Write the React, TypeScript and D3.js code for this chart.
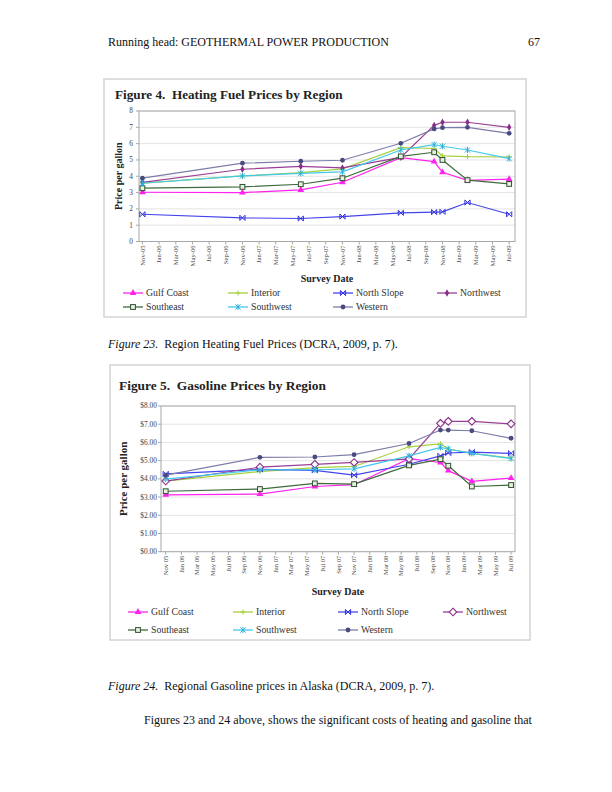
import React from "react";
import * as d3 from "d3";

// months since Nov 2005 of each survey point
const surveyMonths = [0, 12, 19, 24, 31, 35, 36, 39, 44];
const tickMonths = d3.range(0, 45, 2);

const heatingTickLabels = ["Nov-05","Jan-06","Mar-06","May-06","Jul-06","Sep-06","Nov-06","Jan-07","Mar-07","May-07","Jul-07","Sep-07","Nov-07","Jan-08","Mar-08","May-08","Jul-08","Sep-08","Nov-08","Jan-09","Mar-09","May-09","Jul-09"];
const gasTickLabels = ["Nov 05","Jan 06","Mar 06","May 06","Jul 06","Sep 06","Nov 06","Jan 07","Mar 07","May 07","Jul 07","Sep 07","Nov 07","Jan 08","Mar 08","May 08","Jul 08","Sep 08","Nov 08","Jan 09","Mar 09","May 09","Jul 09"];

const regions = ["Gulf Coast","Interior","North Slope","Northwest","Southeast","Southwest","Western"];

const heatGulfCoast = [3.02, 3.0, 3.16, 3.63, 5.14, 4.9, 4.24, 3.75, 3.82];
const heatInterior = [3.58, 4.02, 4.22, 4.45, 5.75, 5.7, 5.25, 5.2, 5.18];
const heatNorthSlope = [1.67, 1.45, 1.41, 1.53, 1.76, 1.8, 1.82, 2.39, 1.67];
const heatNorthwest = [3.63, 4.43, 4.61, 4.51, 5.16, 7.12, 7.31, 7.31, 7.0];
const heatSoutheast = [3.27, 3.35, 3.51, 3.88, 5.22, 5.47, 5.0, 3.76, 3.53];
const heatSouthwest = [3.57, 4.02, 4.18, 4.27, 5.61, 5.94, 5.84, 5.61, 5.08];
const heatWestern = [3.88, 4.8, 4.92, 4.98, 6.02, 6.9, 6.98, 7.0, 6.63];

const gasGulfCoast = [3.12, 3.16, 3.58, 3.68, 5.11, 4.9, 4.45, 3.86, 4.04];
const gasInterior = [3.88, 4.4, 4.62, 4.68, 5.76, 5.92, 5.64, 5.4, 5.15];
const gasNorthSlope = [4.27, 4.52, 4.47, 4.2, 4.8, 5.26, 5.42, 5.47, 5.4];
const gasNorthwest = [3.88, 4.64, 4.8, 4.9, 5.1, 7.05, 7.16, 7.16, 7.02];
const gasSoutheast = [3.32, 3.44, 3.75, 3.71, 4.74, 5.08, 4.72, 3.58, 3.66];
const gasSouthwest = [3.99, 4.5, 4.5, 4.55, 5.26, 5.73, 5.64, 5.4, 5.12];
const gasWestern = [4.2, 5.18, 5.2, 5.33, 5.94, 6.68, 6.68, 6.64, 6.23];

const heatValues = [heatGulfCoast, heatInterior, heatNorthSlope, heatNorthwest, heatSoutheast, heatSouthwest, heatWestern];
const gasValues = [gasGulfCoast, gasInterior, gasNorthSlope, gasNorthwest, gasSoutheast, gasSouthwest, gasWestern];

const yTicks = d3.range(0, 9, 1);

const lineColors = ["#ff22ee", "#a8d040", "#4444ee", "#9a3f95", "#3d6b3d", "#44c8ee", "#7c7ca8"];
const markerColors = ["#ff22ee", "#a8d040", "#3333dd", "#8a2f88", "#2f4f2f", "#2fb0d8", "#4a4a80"];
const markers = ["triangle", "plus", "x", "diamond", "square", "asterisk", "circle"];

const SERIF = "'Liberation Serif', 'DejaVu Serif', serif";

function Marker({ type, x, y, color, big }: { type: string; x: number; y: number; color: string; big?: boolean }) {
  const s = 2.6;
  switch (type) {
    case "triangle":
      return <path d={d3.symbol(d3.symbolTriangle, 20)() || ""} transform={`translate(${x},${y})`} fill={color} />;
    case "plus":
      return <path d={`M${x - s},${y}H${x + s}M${x},${y - s}V${y + s}`} stroke={color} strokeWidth={1} />;
    case "x":
      return <path d={`M${x - s},${y - s}L${x + s},${y + s}M${x - s},${y + s}L${x + s},${y - s}M${x - s},${y - s}V${y + s}M${x + s},${y - s}V${y + s}`} stroke={color} strokeWidth={1} fill="none" />;
    case "diamond":
      return big ? (
        <path d={`M${x},${y - 3.8}L${x + 3.8},${y}L${x},${y + 3.8}L${x - 3.8},${y}Z`} fill="#fff" stroke={color} strokeWidth={1.1} />
      ) : (
        <path d={d3.symbol(d3.symbolDiamond, 16)() || ""} transform={`translate(${x},${y})`} fill={color} />
      );
    case "square":
      return <rect x={x - 2.4} y={y - 2.4} width={4.8} height={4.8} fill="#e8f0e0" stroke={color} strokeWidth={1} />;
    case "asterisk":
      return <path d={`M${x - s},${y - s}L${x + s},${y + s}M${x - s},${y + s}L${x + s},${y - s}M${x},${y - s - 0.5}V${y + s + 0.5}`} stroke={color} strokeWidth={1} />;
    case "circle":
    default:
      return <circle cx={x} cy={y} r={2.4} fill={color} />;
  }
}

interface ChartProps {
  box: [number, number, number, number];
  title: string;
  titleX: number;
  titleY: number;
  titleSize: number;
  plot: { l: number; r: number; t: number; b: number };
  domain: [number, number];
  yFmt: (v: number) => string;
  yTickX: number;
  yLabelX: number;
  xLabels: string[];
  values: number[][];
  surveyY: number;
  legendRows: [number, number];
  legendCols: number[];
  bigDiamond?: boolean;
  labelSize: number;
}

function Chart(p: ChartProps) {
  const x = d3.scaleLinear().domain(p.domain).range([p.plot.l, p.plot.r]);
  const y = d3.scaleLinear().domain([0, 8]).range([p.plot.b, p.plot.t]);
  const line = d3.line<number>().x((_, i) => x(surveyMonths[i])).y((d) => y(d));
  const cx = (p.plot.l + p.plot.r) / 2;
  const cy = (p.plot.t + p.plot.b) / 2;
  return (
    <g fontFamily={SERIF}>
      <rect x={p.box[0]} y={p.box[1]} width={p.box[2]} height={p.box[3]} fill="#fff" stroke="#d4d4d4" strokeWidth={1.5} />
      <text x={p.titleX} y={p.titleY} fontSize={p.titleSize} fontWeight="bold" fill="#222">{p.title}</text>
      {yTicks.map((t) => (
        <line key={"g" + t} x1={p.plot.l} x2={p.plot.r} y1={y(t)} y2={y(t)} stroke="#e4e4e4" strokeWidth={1} />
      ))}
      <rect x={p.plot.l} y={p.plot.t} width={p.plot.r - p.plot.l} height={p.plot.b - p.plot.t} fill="none" stroke="#a8a8a8" strokeWidth={1} />
      {yTicks.map((t) => (
        <g key={"y" + t}>
          <line x1={p.plot.l - 3} x2={p.plot.l} y1={y(t)} y2={y(t)} stroke="#a8a8a8" />
          <text x={p.yTickX} y={y(t)} dy="0.33em" textAnchor="end" fontSize={7.4} fill="#444">{p.yFmt(t)}</text>
        </g>
      ))}
      {tickMonths.map((m, i) => (
        <g key={"x" + m}>
          <line x1={x(m)} x2={x(m)} y1={p.plot.b} y2={p.plot.b + 3} stroke="#a8a8a8" />
          <text transform={`translate(${x(m)},${p.plot.b + 4}) rotate(-90)`} dy="0.33em" textAnchor="end" fontSize={6.6} fill="#444">{p.xLabels[i]}</text>
        </g>
      ))}
      <text transform={`translate(${p.yLabelX},${cy}) rotate(-90)`} textAnchor="middle" fontSize={p.labelSize} fontWeight="bold" fill="#222">Price per gallon</text>
      <text x={cx} y={p.surveyY} textAnchor="middle" fontSize={10} fontWeight="bold" fill="#222">Survey Date</text>
      {p.values.map((vals, si) => (
        <g key={"s" + si}>
          <path d={line(vals) || ""} fill="none" stroke={lineColors[si]} strokeWidth={1.2} />
          {vals.map((v, i) => (
            <Marker key={i} type={markers[si]} x={x(surveyMonths[i])} y={y(v)} color={markerColors[si]} big={p.bigDiamond} />
          ))}
        </g>
      ))}
      {regions.map((name, i) => {
        const row = i < 4 ? 0 : 1;
        const col = i < 4 ? i : i - 4;
        const lx = p.legendCols[col];
        const ly = p.legendRows[row];
        return (
          <g key={"l" + i}>
            <line x1={lx} x2={lx + 20} y1={ly} y2={ly} stroke={lineColors[i]} strokeWidth={1.3} />
            <Marker type={markers[i]} x={lx + 10} y={ly} color={markerColors[i]} big={p.bigDiamond} />
            <text x={lx + 23} y={ly} dy="0.33em" fontSize={9.8} fill="#333">{name}</text>
          </g>
        );
      })}
    </g>
  );
}

export default function App() {
  return (
    <svg width={612} height={792} style={{ position: "absolute", left: 0, top: 0, background: "#fff" }} fontFamily={SERIF}>
      <rect width={612} height={792} fill="#fff" />
      <text x={108} y={46} fontSize={12} fill="#111">Running head: GEOTHERMAL POWER PRODUCTION</text>
      <text x={540} y={46} fontSize={12} textAnchor="end" fill="#111">67</text>

      <Chart
        box={[104, 79, 422, 238]}
        title={"Figure 4.\u00a0 Heating Fuel Prices by Region"}
        titleX={115}
        titleY={99}
        titleSize={13.2}
        plot={{ l: 139, r: 515, t: 111, b: 241.5 }}
        domain={[-0.41, 44.7]}
        yFmt={(v) => String(v)}
        yTickX={133}
        yLabelX={122}
        xLabels={heatingTickLabels}
        values={heatValues}
        surveyY={282}
        legendRows={[293, 307]}
        legendCols={[123, 228, 333, 437]}
        labelSize={10}
      />

      <Chart
        box={[110, 365, 420, 275]}
        title={"Figure 5.\u00a0 Gasoline Prices by Region"}
        titleX={119}
        titleY={390}
        titleSize={13.4}
        plot={{ l: 161, r: 515, t: 406, b: 551.7 }}
        domain={[-0.6, 44.5]}
        yFmt={(v) => "$" + v.toFixed(2)}
        yTickX={157}
        yLabelX={127}
        xLabels={gasTickLabels}
        values={gasValues}
        surveyY={595}
        legendRows={[612, 630]}
        legendCols={[128, 233, 338, 443]}
        bigDiamond
        labelSize={11}
      />

      <text x={108} y={348} fontSize={12} fill="#111">
        <tspan fontStyle="italic">Figure 23.</tspan>
        <tspan>{"\u00a0 Region Heating Fuel Prices (DCRA, 2009, p. 7)."}</tspan>
      </text>
      <text x={108} y={690} fontSize={12} fill="#111">
        <tspan fontStyle="italic">Figure 24.</tspan>
        <tspan>{"\u00a0 Regional Gasoline prices in Alaska (DCRA, 2009, p. 7)."}</tspan>
      </text>
      <text x={144} y={724} fontSize={12} fill="#111">Figures 23 and 24 above, shows the significant costs of heating and gasoline that</text>
    </svg>
  );
}
